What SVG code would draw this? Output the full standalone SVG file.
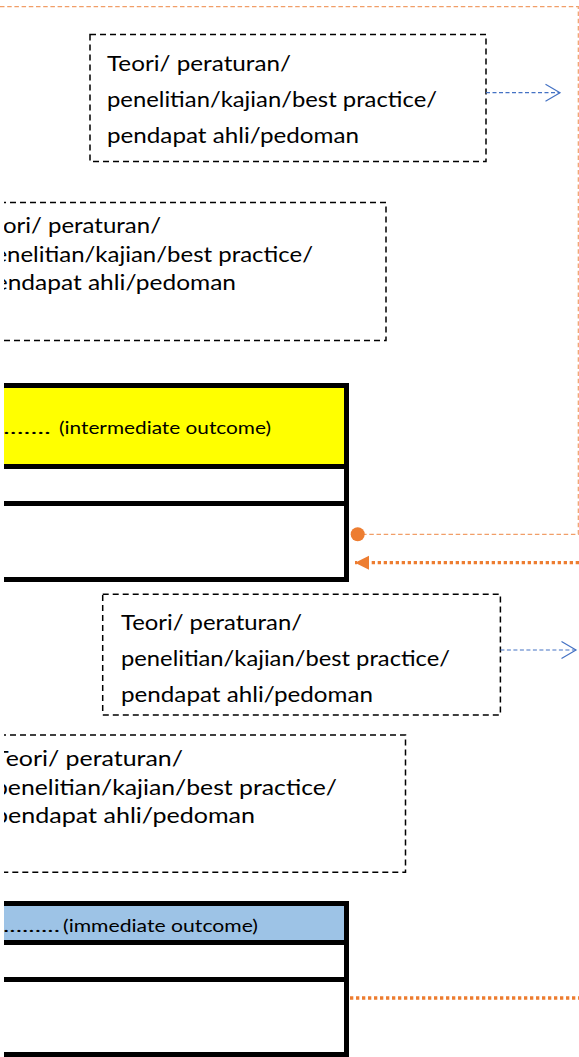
<svg xmlns="http://www.w3.org/2000/svg" width="579" height="1057" viewBox="0 0 579 1057">
<style>
.t{font-family:Lato,"Liberation Sans",sans-serif;font-size:22px;fill:#000}
.s{font-family:Lato,"Liberation Sans",sans-serif;font-size:18px;fill:#000}
.db{fill:none;stroke:#000;stroke-width:1.5;stroke-dasharray:6 4}
.bar{fill:none;stroke:#000;stroke-width:5}
.blue{fill:none;stroke:#4472C4;stroke-width:1.2;stroke-dasharray:4 2.5}
.or{fill:none;stroke:#F19E68;stroke-width:1.2;stroke-dasharray:4.5 2.7}
.od{fill:none;stroke:#ED7D31;stroke-width:3.3;stroke-dasharray:3.3 2.7}
</style>
<defs>
<clipPath id="c"><rect x="4" y="0" width="600" height="1057"/></clipPath>
<marker id="chev" markerUnits="userSpaceOnUse" markerWidth="18" markerHeight="20" refX="15" refY="9.5" orient="auto">
<path d="M0.5,1 L15,9.5 L0.5,18" fill="none" stroke="#4472C4" stroke-width="1.2" stroke-dasharray="none"/>
</marker>
<marker id="tri" markerUnits="userSpaceOnUse" markerWidth="15" markerHeight="15" refX="14" refY="7" orient="auto">
<path d="M0,0 L14,7 L0,14 z" fill="#ED7D31" stroke="none"/>
</marker>
</defs>
<rect width="579" height="1057" fill="#fff"/>

<g id="box1">
<rect class="db" x="90" y="34.5" width="396" height="127"/>
<text class="t" x="107" y="71" textLength="184" lengthAdjust="spacingAndGlyphs">Teori/ peraturan/</text>
<text class="t" x="107" y="107" textLength="330" lengthAdjust="spacingAndGlyphs">penelitian/kajian/best practice/</text>
<text class="t" x="107" y="143" textLength="252" lengthAdjust="spacingAndGlyphs">pendapat ahli/pedoman</text>
</g>

<g id="box2" clip-path="url(#c)">
<rect class="db" x="-10" y="202.5" width="396" height="138"/>
<text class="t" x="-21" y="233" textLength="182" lengthAdjust="spacingAndGlyphs">Teori/ peraturan/</text>
<text class="t" x="-19" y="262" textLength="332" lengthAdjust="spacingAndGlyphs">penelitian/kajian/best practice/</text>
<text class="t" x="-19" y="290" textLength="255" lengthAdjust="spacingAndGlyphs">pendapat ahli/pedoman</text>
</g>

<g id="intermediate" clip-path="url(#c)">
<rect x="-10" y="388" width="354" height="76" fill="#FFFF00"/>
<path class="bar" d="M-10,385.5 H346.5 V579.5 H-10 M-10,466.5 H346.5 M-10,503.5 H346.5"/>
<text class="s" y="434"><tspan x="3" textLength="48" lengthAdjust="spacingAndGlyphs">.......</tspan> <tspan x="59" textLength="212" lengthAdjust="spacingAndGlyphs">(intermediate outcome)</tspan></text>
</g>

<g id="box3">
<rect class="db" x="102.7" y="594.3" width="397.7" height="120.7"/>
<text class="t" x="121" y="630" textLength="181" lengthAdjust="spacingAndGlyphs">Teori/ peraturan/</text>
<text class="t" x="121" y="666" textLength="329" lengthAdjust="spacingAndGlyphs">penelitian/kajian/best practice/</text>
<text class="t" x="121" y="702" textLength="252" lengthAdjust="spacingAndGlyphs">pendapat ahli/pedoman</text>
</g>

<g id="box4" clip-path="url(#c)">
<rect class="db" x="-10" y="735" width="415.5" height="137.3"/>
<text class="t" x="-6" y="766" textLength="189" lengthAdjust="spacingAndGlyphs">Teori/ peraturan/</text>
<text class="t" x="-6" y="795" textLength="343" lengthAdjust="spacingAndGlyphs">penelitian/kajian/best practice/</text>
<text class="t" x="-6" y="823" textLength="261" lengthAdjust="spacingAndGlyphs">pendapat ahli/pedoman</text>
</g>

<g id="immediate" clip-path="url(#c)">
<rect x="-10" y="906" width="354" height="34" fill="#9DC3E6"/>
<path class="bar" d="M-10,903.5 H346.5 V1054.5 H-10 M-10,942.5 H346.5 M-10,979.5 H346.5"/>
<text class="s" y="932"><tspan x="3" textLength="57" lengthAdjust="spacingAndGlyphs">.........</tspan><tspan x="63" textLength="195" lengthAdjust="spacingAndGlyphs">(immediate outcome)</tspan></text>
</g>

<g id="connectors">
<path class="or" d="M0,6.7 H578.3 V534.3 H362"/>
<circle cx="357.7" cy="534.3" r="7" fill="#ED7D31"/>
<path class="od" d="M579,562.7 H355" marker-end="url(#tri)"/>
<path class="od" d="M350,998 H579"/>
<path class="blue" d="M486,92.7 H560" marker-end="url(#chev)"/>
<path class="blue" d="M500.4,650 H576" marker-end="url(#chev)"/>
</g>
</svg>
